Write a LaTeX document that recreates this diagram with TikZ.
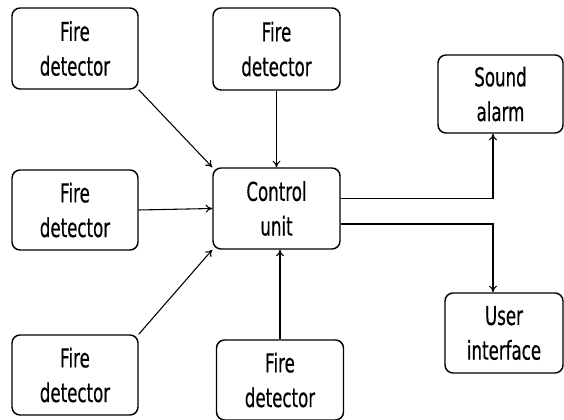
\documentclass[tikz,border=0pt]{standalone}
\usepackage{fontspec}
\setmainfont{DejaVu Sans}[FakeStretch=0.64,FakeBold=0.4]
\usetikzlibrary{arrows.meta,calc}

\tikzset{every picture/.style={line width=0.75pt}}

\begin{document}
\begin{tikzpicture}[x=0.75pt,y=0.75pt,yscale=-1,xscale=1,
  blk/.style={draw, rounded corners=6pt, line width=1.1pt, align=center,
    font=\fontsize{19.5}{26}\selectfont, inner sep=0pt},
  link/.style={line width=0.8pt, -{To[length=5pt,width=6pt]}}]
	\useasboundingbox (0,0) rectangle (564,420);

	% Detectors
	\node [blk, minimum width=94.5pt, minimum height=60.75pt] (fdA) at (75,48.5) {Fire\\detector};
	\node [blk, minimum width=95.25pt, minimum height=61.5pt] (fdB) at (276.5,49) {Fire\\detector};
	\node [blk, minimum width=94.5pt, minimum height=60pt] (fdC) at (75,210) {Fire\\detector};
	\node [blk, minimum width=94.5pt, minimum height=60pt] (fdD) at (75,375) {Fire\\detector};
	\node [blk, minimum width=95.25pt, minimum height=60pt] (fdE) at (280,380) {Fire\\detector};

	% Control unit and outputs
	\node [blk, minimum width=95.25pt, minimum height=60.75pt] (ctrl) at (276.5,208.5) {Control\\unit};
	\node [blk, minimum width=93.75pt, minimum height=58.5pt] (alarm) at (500.5,94) {Sound\\alarm};
	\node [blk, minimum width=88.5pt, minimum height=60pt] (ui) at (504,333) {User\\interface};

	% Inputs
	\draw [link] (fdA.south east) -- (ctrl.north west);
	\draw [link] (fdB.south) -- (ctrl.north);
	\draw [link] (fdC.east) -- (ctrl.west);
	\draw [link] (fdD.north east) -- (ctrl.south west);
	\draw [link] (fdE.north) -- (fdE.north |- ctrl.south);

	% Outputs
	\draw [link] ($(ctrl.east)+(0,-10)$) -| ($(alarm.south)+(-7.5,0)$);
	\draw [link] ($(ctrl.east)+(0,15.5)$) -| ($(ui.north)+(-11,0)$);

\end{tikzpicture}
\end{document}
